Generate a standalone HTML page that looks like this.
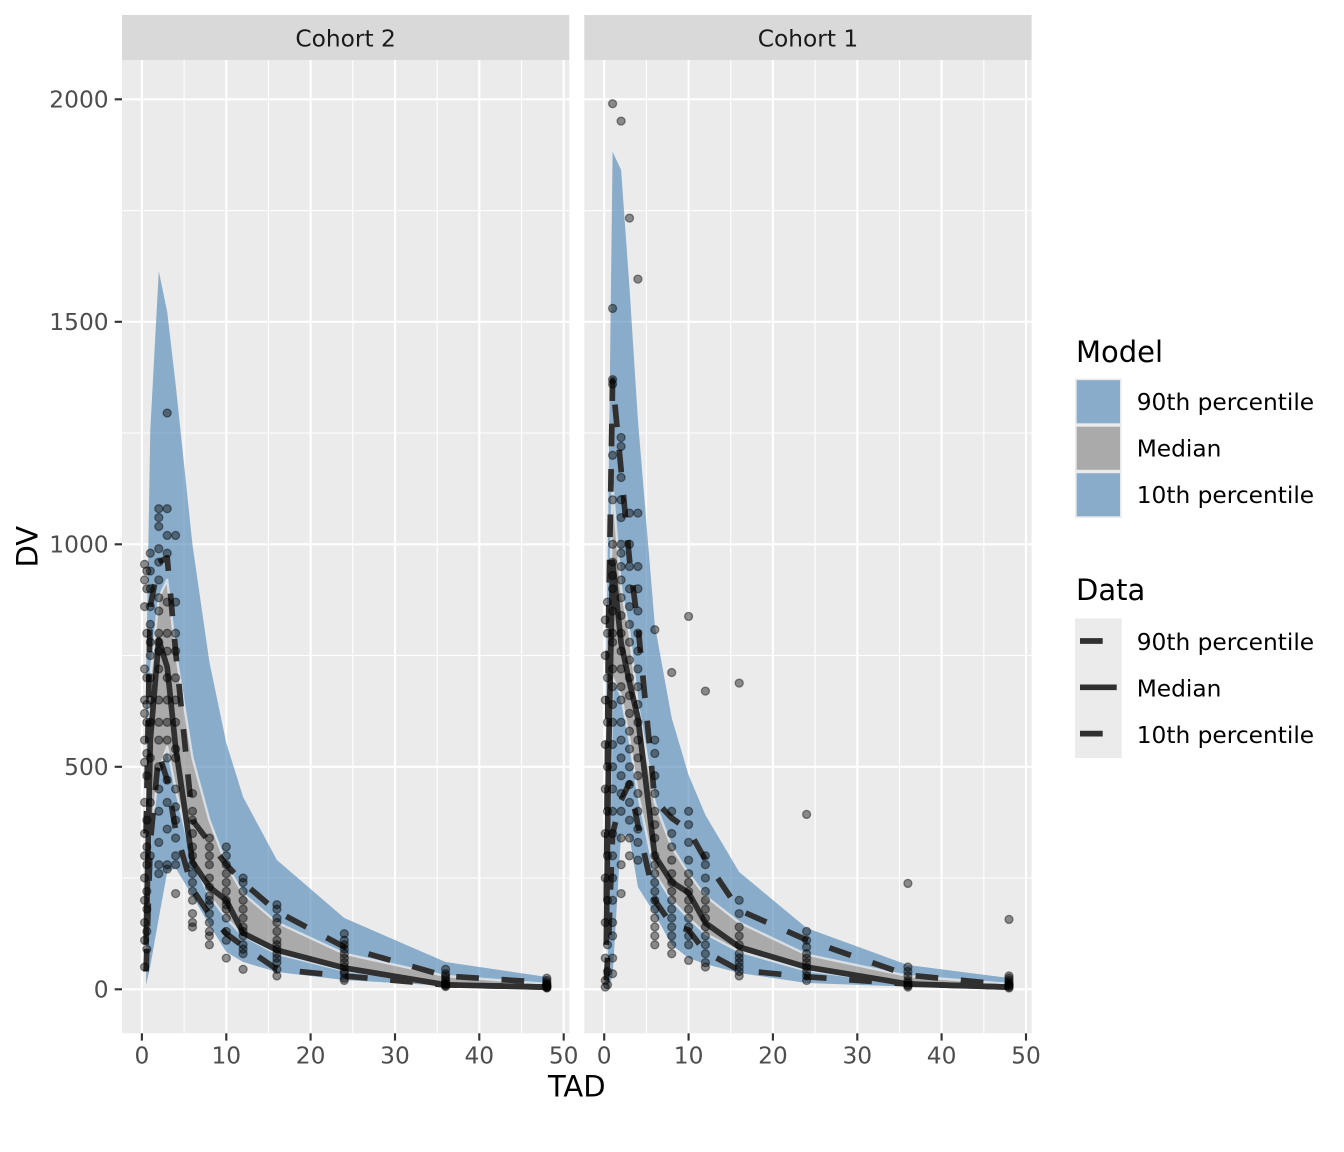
<!DOCTYPE html>
<html><head><meta charset="utf-8"><style>
html,body{margin:0;padding:0;background:#fff;}
svg{display:block;font-family:"DejaVu Sans","Liberation Sans",sans-serif;}
.pt circle{fill:#000;fill-opacity:.42;stroke:#000;stroke-opacity:.42;stroke-width:1.3;r:4px}
.gmaj{stroke:#fff;stroke-width:2.13}
.gmin{stroke:#fff;stroke-width:1.07}
.band{fill:#4682B4;fill-opacity:.6}
.gray{fill:#7F7F7F;fill-opacity:.6;stroke:#fff;stroke-opacity:.6;stroke-width:2.4;stroke-linejoin:round}
.ln{fill:none;stroke:#303030;stroke-width:5.7;stroke-linejoin:round}
.dash{stroke-dasharray:22.7 22.7}
.tk{stroke:#333;stroke-width:2.13}
.tl{fill:#4D4D4D;font-size:23.3px}
.lg{fill:#000;font-size:23.3px}
.tt{fill:#000;font-size:29px}
</style></head><body>
<svg width="1344" height="1152" viewBox="0 0 1344 1152" xmlns="http://www.w3.org/2000/svg">
<rect width="1344" height="1152" fill="#fff"/>

<!-- Strips -->
<rect x="122" y="15" width="447.3" height="45" fill="#D9D9D9"/>
<rect x="584.3" y="15" width="447.3" height="45" fill="#D9D9D9"/>
<text x="345.6" y="46.3" text-anchor="middle" font-size="23.3" fill="#1A1A1A">Cohort 2</text>
<text x="808" y="46.3" text-anchor="middle" font-size="23.3" fill="#1A1A1A">Cohort 1</text>

<!-- Panel 1 background + grid -->
<rect x="122" y="60" width="447.3" height="973.3" fill="#EBEBEB"/>
<g class="gmin">
<line x1="122" x2="569.3" y1="878.0" y2="878.0"/><line x1="122" x2="569.3" y1="655.5" y2="655.5"/>
<line x1="122" x2="569.3" y1="433.0" y2="433.0"/><line x1="122" x2="569.3" y1="210.6" y2="210.6"/>
<line y1="60" y2="1033.3" x1="184.1" x2="184.1"/><line y1="60" y2="1033.3" x1="268.4" x2="268.4"/>
<line y1="60" y2="1033.3" x1="352.8" x2="352.8"/><line y1="60" y2="1033.3" x1="437.2" x2="437.2"/>
<line y1="60" y2="1033.3" x1="521.5" x2="521.5"/>
</g>
<g class="gmaj">
<line x1="122" x2="569.3" y1="989.3" y2="989.3"/><line x1="122" x2="569.3" y1="766.8" y2="766.8"/>
<line x1="122" x2="569.3" y1="544.3" y2="544.3"/><line x1="122" x2="569.3" y1="321.8" y2="321.8"/>
<line x1="122" x2="569.3" y1="99.3" y2="99.3"/>
<line y1="60" y2="1033.3" x1="141.9" x2="141.9"/><line y1="60" y2="1033.3" x1="226.3" x2="226.3"/>
<line y1="60" y2="1033.3" x1="310.6" x2="310.6"/><line y1="60" y2="1033.3" x1="395.0" x2="395.0"/>
<line y1="60" y2="1033.3" x1="479.3" x2="479.3"/><line y1="60" y2="1033.3" x1="563.7" x2="563.7"/>
</g>

<!-- Panel 2 background + grid -->
<rect x="584.3" y="60" width="447.3" height="973.3" fill="#EBEBEB"/>
<g class="gmin">
<line x1="584.3" x2="1031.6" y1="878.0" y2="878.0"/><line x1="584.3" x2="1031.6" y1="655.5" y2="655.5"/>
<line x1="584.3" x2="1031.6" y1="433.0" y2="433.0"/><line x1="584.3" x2="1031.6" y1="210.6" y2="210.6"/>
<line y1="60" y2="1033.3" x1="646.4" x2="646.4"/><line y1="60" y2="1033.3" x1="730.7" x2="730.7"/>
<line y1="60" y2="1033.3" x1="815.1" x2="815.1"/><line y1="60" y2="1033.3" x1="899.5" x2="899.5"/>
<line y1="60" y2="1033.3" x1="983.8" x2="983.8"/>
</g>
<g class="gmaj">
<line x1="584.3" x2="1031.6" y1="989.3" y2="989.3"/><line x1="584.3" x2="1031.6" y1="766.8" y2="766.8"/>
<line x1="584.3" x2="1031.6" y1="544.3" y2="544.3"/><line x1="584.3" x2="1031.6" y1="321.8" y2="321.8"/>
<line x1="584.3" x2="1031.6" y1="99.3" y2="99.3"/>
<line y1="60" y2="1033.3" x1="604.2" x2="604.2"/><line y1="60" y2="1033.3" x1="688.6" x2="688.6"/>
<line y1="60" y2="1033.3" x1="772.9" x2="772.9"/><line y1="60" y2="1033.3" x1="857.3" x2="857.3"/>
<line y1="60" y2="1033.3" x1="941.6" x2="941.6"/><line y1="60" y2="1033.3" x1="1026.0" x2="1026.0"/>
</g>

<!-- Panel 1 ribbons -->
<polygon class="band" points="146.1,678 150.3,430 158.8,271 167.2,312 175.6,384 192.5,545 209.4,662 226.3,743 243.1,797 276.9,860 344.3,918 445.6,962 546.8,977 546.8,984.0 445.6,976.0 344.3,953.7 276.9,922.5 243.1,893.6 226.3,864.7 209.4,820.2 192.5,757.9 175.6,651.1 167.2,579.9 158.8,597.7 150.3,677.8 146.1,784.6"/>
<polygon class="band" points="146.1,927.0 150.3,838.0 158.8,771.2 167.2,746.8 175.6,789.1 192.5,860.2 209.4,895.9 226.3,918.1 243.1,935.9 276.9,953.7 344.3,970.6 445.6,984.0 546.8,987.5 546.8,988.4 445.6,985.8 344.3,980 276.9,972 243.1,962 226.3,952 209.4,925 192.5,896 175.6,868 167.2,872 158.8,918 150.3,966 146.1,985"/>
<polygon class="gray" points="146.1,784.6 150.3,677.8 158.8,597.7 167.2,579.9 175.6,651.1 192.5,757.9 209.4,820.2 226.3,864.7 243.1,893.6 276.9,922.5 344.3,953.7 445.6,976.0 546.8,984.0 546.8,987.5 445.6,984.0 344.3,970.6 276.9,953.7 243.1,935.9 226.3,918.1 209.4,895.9 192.5,860.2 175.6,789.1 167.2,746.8 158.8,771.2 150.3,838.0 146.1,927.0"/>

<!-- Panel 2 ribbons -->
<polygon class="band" points="606.3,656 608.4,500 612.6,151.7 621.1,170 629.5,288 637.9,420 654.8,625 671.7,718 688.6,775 705.4,815 739.2,872 806.6,928 907.9,965 1009.0,978 1009.0,984.0 907.9,976.0 806.6,954.6 739.2,922.5 705.4,895.9 688.6,873.6 671.7,846.9 654.8,802.4 637.9,704.5 629.5,633.3 621.1,588.8 612.6,486.4 608.4,677.8 606.3,878.1"/>
<polygon class="band" points="606.3,976.0 608.4,878.1 612.6,677.8 621.1,695.6 629.5,740.1 637.9,793.5 654.8,873.6 671.7,900.3 688.6,918.1 705.4,933.7 739.2,951.5 806.6,970.6 907.9,984.0 1009.0,987.5 1009.0,988.4 907.9,986.6 806.6,983 739.2,973 705.4,964 688.6,958 671.7,945 654.8,914 637.9,887 629.5,837 621.1,833 612.6,976 608.4,987 606.3,989"/>
<polygon class="gray" points="606.3,878.1 608.4,677.8 612.6,486.4 621.1,588.8 629.5,633.3 637.9,704.5 654.8,802.4 671.7,846.9 688.6,873.6 705.4,895.9 739.2,922.5 806.6,954.6 907.9,976.0 1009.0,984.0 1009.0,987.5 907.9,984.0 806.6,970.6 739.2,951.5 705.4,933.7 688.6,918.1 671.7,900.3 654.8,873.6 637.9,793.5 629.5,740.1 621.1,695.6 612.6,677.8 608.4,878.1 606.3,976.0"/>

<!-- Panel 1 data lines -->
<polyline class="ln" points="146.1,944.8 150.3,740.1 158.8,640.0 167.2,667.1 175.6,746.8 192.5,862.0 209.4,887.0 226.3,900.3 243.1,933.2 276.9,950.1 344.3,967.9 445.6,984.8 546.8,987.1"/>
<polyline class="ln dash" points="146.1,833.6 150.3,606.6 158.8,562.1 167.2,557.7 175.6,651.1 192.5,820.2 209.4,842.4 226.3,864.7 243.1,882.5 276.9,911.4 344.3,947.0 445.6,976.0 546.8,982.6"/>
<polyline class="ln dash" points="146.1,971.5 150.3,842.4 158.8,753.5 167.2,780.2 175.6,830.0 192.5,889.2 209.4,914.5 226.3,933.7 243.1,946.1 276.9,969.3 344.3,976.0 445.6,984.9 546.8,987.1"/>

<!-- Panel 2 data lines -->
<polyline class="ln" points="606.3,944.8 608.4,766.8 612.6,562.1 621.1,643.1 629.5,682.7 637.9,717.9 654.8,855.8 671.7,882.1 688.6,892.7 705.4,923.0 739.2,947.0 806.6,967.1 907.9,984.0 1009.0,987.1"/>
<polyline class="ln dash" points="606.3,900.3 608.4,633.3 612.6,380.1 621.1,470.0 629.5,559.9 637.9,624.8 654.8,800.2 671.7,818.0 688.6,830.0 705.4,859.8 739.2,910.1 806.6,939.9 907.9,975.1 1009.0,984.9"/>
<polyline class="ln dash" points="606.3,980.4 608.4,944.8 612.6,833.6 621.1,800.2 629.5,782.8 637.9,825.1 654.8,900.3 671.7,924.8 688.6,930.1 705.4,951.9 739.2,970.2 806.6,976.8 907.9,984.0 1009.0,987.1"/>

<!-- Panel 1 points -->
<g class="pt">
<circle cx="144.6" cy="967.0" r="4"/><circle cx="146.8" cy="949.2" r="4"/><circle cx="144.6" cy="940.3" r="4"/><circle cx="146.8" cy="931.4" r="4"/><circle cx="144.6" cy="922.5" r="4"/><circle cx="146.8" cy="909.2" r="4"/><circle cx="144.6" cy="900.3" r="4"/><circle cx="146.8" cy="891.4" r="4"/><circle cx="144.6" cy="878.0" r="4"/><circle cx="146.8" cy="864.7" r="4"/><circle cx="144.6" cy="855.8" r="4"/><circle cx="146.8" cy="846.9" r="4"/><circle cx="144.6" cy="833.5" r="4"/><circle cx="146.8" cy="820.2" r="4"/><circle cx="144.6" cy="802.4" r="4"/><circle cx="146.8" cy="775.7" r="4"/><circle cx="144.6" cy="762.3" r="4"/><circle cx="146.8" cy="753.4" r="4"/><circle cx="144.6" cy="740.1" r="4"/><circle cx="146.8" cy="722.3" r="4"/><circle cx="144.6" cy="713.4" r="4"/><circle cx="146.8" cy="704.5" r="4"/><circle cx="144.6" cy="700.0" r="4"/><circle cx="146.8" cy="677.8" r="4"/><circle cx="144.6" cy="668.9" r="4"/><circle cx="146.8" cy="633.3" r="4"/><circle cx="144.6" cy="606.6" r="4"/><circle cx="146.8" cy="588.8" r="4"/><circle cx="144.6" cy="579.9" r="4"/><circle cx="146.8" cy="571.0" r="4"/><circle cx="144.6" cy="564.3" r="4"/>
<circle cx="150.3" cy="855.8" r="4"/><circle cx="150.3" cy="802.4" r="4"/><circle cx="150.3" cy="757.9" r="4"/><circle cx="150.3" cy="722.3" r="4"/><circle cx="150.3" cy="700.0" r="4"/><circle cx="150.3" cy="677.8" r="4"/><circle cx="150.3" cy="655.5" r="4"/><circle cx="150.3" cy="642.2" r="4"/><circle cx="150.3" cy="624.4" r="4"/><circle cx="150.3" cy="606.6" r="4"/><circle cx="150.3" cy="588.8" r="4"/><circle cx="150.3" cy="571.0" r="4"/><circle cx="150.3" cy="553.2" r="4"/>
<circle cx="158.8" cy="873.6" r="4"/><circle cx="158.8" cy="864.7" r="4"/><circle cx="158.8" cy="842.4" r="4"/><circle cx="158.8" cy="811.3" r="4"/><circle cx="158.8" cy="789.0" r="4"/><circle cx="158.8" cy="766.8" r="4"/><circle cx="158.8" cy="740.1" r="4"/><circle cx="158.8" cy="722.3" r="4"/><circle cx="158.8" cy="700.0" r="4"/><circle cx="158.8" cy="668.9" r="4"/><circle cx="158.8" cy="651.1" r="4"/><circle cx="158.8" cy="642.2" r="4"/><circle cx="158.8" cy="633.3" r="4"/><circle cx="158.8" cy="611.0" r="4"/><circle cx="158.8" cy="597.7" r="4"/><circle cx="158.8" cy="579.9" r="4"/><circle cx="158.8" cy="562.1" r="4"/><circle cx="158.8" cy="548.7" r="4"/><circle cx="158.8" cy="526.5" r="4"/><circle cx="158.8" cy="517.6" r="4"/><circle cx="158.8" cy="508.7" r="4"/>
<circle cx="167.2" cy="869.1" r="4"/><circle cx="167.2" cy="864.7" r="4"/><circle cx="167.2" cy="829.1" r="4"/><circle cx="167.2" cy="802.4" r="4"/><circle cx="167.2" cy="780.1" r="4"/><circle cx="167.2" cy="757.9" r="4"/><circle cx="167.2" cy="740.1" r="4"/><circle cx="167.2" cy="722.3" r="4"/><circle cx="167.2" cy="700.0" r="4"/><circle cx="167.2" cy="677.8" r="4"/><circle cx="167.2" cy="651.1" r="4"/><circle cx="167.2" cy="633.3" r="4"/><circle cx="167.2" cy="602.1" r="4"/><circle cx="167.2" cy="553.2" r="4"/><circle cx="167.2" cy="535.4" r="4"/><circle cx="167.2" cy="508.7" r="4"/><circle cx="167.2" cy="413.0" r="4"/>
<circle cx="175.6" cy="893.6" r="4"/><circle cx="175.6" cy="864.7" r="4"/><circle cx="175.6" cy="855.8" r="4"/><circle cx="175.6" cy="838.0" r="4"/><circle cx="175.6" cy="820.2" r="4"/><circle cx="175.6" cy="806.8" r="4"/><circle cx="175.6" cy="789.0" r="4"/><circle cx="175.6" cy="757.9" r="4"/><circle cx="175.6" cy="749.0" r="4"/><circle cx="175.6" cy="722.3" r="4"/><circle cx="175.6" cy="700.0" r="4"/><circle cx="175.6" cy="677.8" r="4"/><circle cx="175.6" cy="651.1" r="4"/><circle cx="175.6" cy="633.3" r="4"/><circle cx="175.6" cy="602.1" r="4"/><circle cx="175.6" cy="535.4" r="4"/>
<circle cx="192.5" cy="927.0" r="4"/><circle cx="192.5" cy="922.5" r="4"/><circle cx="192.5" cy="913.6" r="4"/><circle cx="192.5" cy="900.3" r="4"/><circle cx="192.5" cy="891.4" r="4"/><circle cx="192.5" cy="882.5" r="4"/><circle cx="192.5" cy="873.6" r="4"/><circle cx="192.5" cy="864.7" r="4"/><circle cx="192.5" cy="855.8" r="4"/><circle cx="192.5" cy="846.9" r="4"/><circle cx="192.5" cy="833.5" r="4"/><circle cx="192.5" cy="820.2" r="4"/><circle cx="192.5" cy="811.3" r="4"/><circle cx="192.5" cy="793.5" r="4"/>
<circle cx="209.4" cy="944.8" r="4"/><circle cx="209.4" cy="935.9" r="4"/><circle cx="209.4" cy="931.4" r="4"/><circle cx="209.4" cy="922.5" r="4"/><circle cx="209.4" cy="913.6" r="4"/><circle cx="209.4" cy="904.7" r="4"/><circle cx="209.4" cy="900.3" r="4"/><circle cx="209.4" cy="895.9" r="4"/><circle cx="209.4" cy="886.9" r="4"/><circle cx="209.4" cy="878.0" r="4"/><circle cx="209.4" cy="864.7" r="4"/><circle cx="209.4" cy="855.8" r="4"/><circle cx="209.4" cy="846.9" r="4"/><circle cx="209.4" cy="838.0" r="4"/>
<circle cx="226.3" cy="958.1" r="4"/><circle cx="226.3" cy="940.3" r="4"/><circle cx="226.3" cy="931.4" r="4"/><circle cx="226.3" cy="918.1" r="4"/><circle cx="226.3" cy="909.2" r="4"/><circle cx="226.3" cy="904.7" r="4"/><circle cx="226.3" cy="900.3" r="4"/><circle cx="226.3" cy="891.4" r="4"/><circle cx="226.3" cy="882.5" r="4"/><circle cx="226.3" cy="873.6" r="4"/><circle cx="226.3" cy="864.7" r="4"/><circle cx="226.3" cy="855.8" r="4"/><circle cx="226.3" cy="846.9" r="4"/>
<circle cx="243.1" cy="969.3" r="4"/><circle cx="243.1" cy="953.7" r="4"/><circle cx="243.1" cy="949.2" r="4"/><circle cx="243.1" cy="944.8" r="4"/><circle cx="243.1" cy="935.9" r="4"/><circle cx="243.1" cy="931.4" r="4"/><circle cx="243.1" cy="927.0" r="4"/><circle cx="243.1" cy="918.1" r="4"/><circle cx="243.1" cy="909.2" r="4"/><circle cx="243.1" cy="900.3" r="4"/><circle cx="243.1" cy="891.4" r="4"/><circle cx="243.1" cy="882.5" r="4"/><circle cx="243.1" cy="878.0" r="4"/>
<circle cx="276.9" cy="975.9" r="4"/><circle cx="276.9" cy="969.3" r="4"/><circle cx="276.9" cy="962.6" r="4"/><circle cx="276.9" cy="958.1" r="4"/><circle cx="276.9" cy="953.7" r="4"/><circle cx="276.9" cy="949.2" r="4"/><circle cx="276.9" cy="944.8" r="4"/><circle cx="276.9" cy="940.3" r="4"/><circle cx="276.9" cy="931.4" r="4"/><circle cx="276.9" cy="922.5" r="4"/><circle cx="276.9" cy="918.1" r="4"/><circle cx="276.9" cy="909.2" r="4"/><circle cx="276.9" cy="904.7" r="4"/>
<circle cx="344.3" cy="980.4" r="4"/><circle cx="344.3" cy="978.2" r="4"/><circle cx="344.3" cy="973.7" r="4"/><circle cx="344.3" cy="971.5" r="4"/><circle cx="344.3" cy="967.0" r="4"/><circle cx="344.3" cy="962.6" r="4"/><circle cx="344.3" cy="958.1" r="4"/><circle cx="344.3" cy="953.7" r="4"/><circle cx="344.3" cy="949.2" r="4"/><circle cx="344.3" cy="944.8" r="4"/><circle cx="344.3" cy="940.3" r="4"/><circle cx="344.3" cy="933.7" r="4"/>
<circle cx="445.6" cy="986.6" r="4"/><circle cx="445.6" cy="985.7" r="4"/><circle cx="445.6" cy="984.8" r="4"/><circle cx="445.6" cy="984.0" r="4"/><circle cx="445.6" cy="982.6" r="4"/><circle cx="445.6" cy="980.4" r="4"/><circle cx="445.6" cy="978.2" r="4"/><circle cx="445.6" cy="975.9" r="4"/><circle cx="445.6" cy="973.7" r="4"/><circle cx="445.6" cy="969.3" r="4"/>
<circle cx="546.8" cy="988.0" r="4"/><circle cx="546.8" cy="987.5" r="4"/><circle cx="546.8" cy="987.1" r="4"/><circle cx="546.8" cy="986.6" r="4"/><circle cx="546.8" cy="985.7" r="4"/><circle cx="546.8" cy="984.8" r="4"/><circle cx="546.8" cy="984.0" r="4"/><circle cx="546.8" cy="982.6" r="4"/><circle cx="546.8" cy="980.4" r="4"/><circle cx="546.8" cy="978.2" r="4"/>
</g>

<!-- Panel 2 points -->
<g class="pt">
<circle cx="605.3" cy="987.1" r="4"/><circle cx="607.5" cy="984.8" r="4"/><circle cx="605.3" cy="980.4" r="4"/><circle cx="607.5" cy="971.5" r="4"/><circle cx="605.3" cy="958.1" r="4"/><circle cx="607.5" cy="944.8" r="4"/><circle cx="605.3" cy="922.5" r="4"/><circle cx="607.5" cy="900.3" r="4"/><circle cx="605.3" cy="878.0" r="4"/><circle cx="607.5" cy="855.8" r="4"/><circle cx="605.3" cy="833.5" r="4"/><circle cx="607.5" cy="811.3" r="4"/><circle cx="605.3" cy="789.0" r="4"/><circle cx="607.5" cy="766.8" r="4"/><circle cx="605.3" cy="744.5" r="4"/><circle cx="607.5" cy="722.3" r="4"/><circle cx="605.3" cy="700.0" r="4"/><circle cx="607.5" cy="677.8" r="4"/><circle cx="605.3" cy="655.5" r="4"/><circle cx="607.5" cy="633.3" r="4"/><circle cx="605.3" cy="619.9" r="4"/><circle cx="607.5" cy="602.1" r="4"/>
<circle cx="612.6" cy="973.7" r="4"/><circle cx="612.6" cy="958.1" r="4"/><circle cx="612.6" cy="935.9" r="4"/><circle cx="612.6" cy="922.5" r="4"/><circle cx="612.6" cy="900.3" r="4"/><circle cx="612.6" cy="878.0" r="4"/><circle cx="612.6" cy="855.8" r="4"/><circle cx="612.6" cy="833.5" r="4"/><circle cx="612.6" cy="811.3" r="4"/><circle cx="612.6" cy="789.0" r="4"/><circle cx="612.6" cy="766.8" r="4"/><circle cx="612.6" cy="744.5" r="4"/><circle cx="612.6" cy="722.3" r="4"/><circle cx="612.6" cy="704.5" r="4"/><circle cx="612.6" cy="686.7" r="4"/><circle cx="612.6" cy="668.9" r="4"/><circle cx="612.6" cy="642.2" r="4"/><circle cx="612.6" cy="633.3" r="4"/><circle cx="612.6" cy="611.0" r="4"/><circle cx="612.6" cy="588.8" r="4"/><circle cx="612.6" cy="575.4" r="4"/><circle cx="612.6" cy="562.1" r="4"/><circle cx="612.6" cy="544.3" r="4"/><circle cx="612.6" cy="499.8" r="4"/><circle cx="612.6" cy="455.3" r="4"/><circle cx="612.6" cy="384.1" r="4"/><circle cx="612.6" cy="379.6" r="4"/><circle cx="612.6" cy="308.4" r="4"/><circle cx="612.6" cy="103.7" r="4"/>
<circle cx="621.1" cy="893.6" r="4"/><circle cx="621.1" cy="864.7" r="4"/><circle cx="621.1" cy="838.0" r="4"/><circle cx="621.1" cy="811.3" r="4"/><circle cx="621.1" cy="793.5" r="4"/><circle cx="621.1" cy="775.7" r="4"/><circle cx="621.1" cy="757.9" r="4"/><circle cx="621.1" cy="740.1" r="4"/><circle cx="621.1" cy="722.3" r="4"/><circle cx="621.1" cy="700.0" r="4"/><circle cx="621.1" cy="686.7" r="4"/><circle cx="621.1" cy="668.9" r="4"/><circle cx="621.1" cy="651.1" r="4"/><circle cx="621.1" cy="633.3" r="4"/><circle cx="621.1" cy="615.5" r="4"/><circle cx="621.1" cy="597.7" r="4"/><circle cx="621.1" cy="579.9" r="4"/><circle cx="621.1" cy="566.5" r="4"/><circle cx="621.1" cy="553.2" r="4"/><circle cx="621.1" cy="544.3" r="4"/><circle cx="621.1" cy="517.6" r="4"/><circle cx="621.1" cy="499.8" r="4"/><circle cx="621.1" cy="477.5" r="4"/><circle cx="621.1" cy="446.4" r="4"/><circle cx="621.1" cy="437.5" r="4"/><circle cx="621.1" cy="121.1" r="4"/>
<circle cx="629.5" cy="855.8" r="4"/><circle cx="629.5" cy="838.0" r="4"/><circle cx="629.5" cy="820.2" r="4"/><circle cx="629.5" cy="802.4" r="4"/><circle cx="629.5" cy="784.6" r="4"/><circle cx="629.5" cy="766.8" r="4"/><circle cx="629.5" cy="749.0" r="4"/><circle cx="629.5" cy="731.2" r="4"/><circle cx="629.5" cy="713.4" r="4"/><circle cx="629.5" cy="695.6" r="4"/><circle cx="629.5" cy="677.8" r="4"/><circle cx="629.5" cy="660.0" r="4"/><circle cx="629.5" cy="642.2" r="4"/><circle cx="629.5" cy="624.4" r="4"/><circle cx="629.5" cy="606.6" r="4"/><circle cx="629.5" cy="588.8" r="4"/><circle cx="629.5" cy="566.5" r="4"/><circle cx="629.5" cy="544.3" r="4"/><circle cx="629.5" cy="513.1" r="4"/><circle cx="629.5" cy="218.1" r="4"/>
<circle cx="637.9" cy="860.2" r="4"/><circle cx="637.9" cy="842.4" r="4"/><circle cx="637.9" cy="829.1" r="4"/><circle cx="637.9" cy="811.3" r="4"/><circle cx="637.9" cy="793.5" r="4"/><circle cx="637.9" cy="775.7" r="4"/><circle cx="637.9" cy="757.9" r="4"/><circle cx="637.9" cy="740.1" r="4"/><circle cx="637.9" cy="722.3" r="4"/><circle cx="637.9" cy="704.5" r="4"/><circle cx="637.9" cy="686.7" r="4"/><circle cx="637.9" cy="668.9" r="4"/><circle cx="637.9" cy="651.1" r="4"/><circle cx="637.9" cy="633.3" r="4"/><circle cx="637.9" cy="611.0" r="4"/><circle cx="637.9" cy="588.8" r="4"/><circle cx="637.9" cy="566.5" r="4"/><circle cx="637.9" cy="513.1" r="4"/><circle cx="637.9" cy="279.1" r="4"/>
<circle cx="654.8" cy="944.8" r="4"/><circle cx="654.8" cy="935.9" r="4"/><circle cx="654.8" cy="927.0" r="4"/><circle cx="654.8" cy="918.1" r="4"/><circle cx="654.8" cy="909.2" r="4"/><circle cx="654.8" cy="900.3" r="4"/><circle cx="654.8" cy="891.4" r="4"/><circle cx="654.8" cy="882.5" r="4"/><circle cx="654.8" cy="873.6" r="4"/><circle cx="654.8" cy="864.7" r="4"/><circle cx="654.8" cy="855.8" r="4"/><circle cx="654.8" cy="838.0" r="4"/><circle cx="654.8" cy="824.6" r="4"/><circle cx="654.8" cy="811.3" r="4"/><circle cx="654.8" cy="793.5" r="4"/><circle cx="654.8" cy="775.7" r="4"/><circle cx="654.8" cy="753.4" r="4"/><circle cx="654.8" cy="740.1" r="4"/><circle cx="654.8" cy="629.7" r="4"/>
<circle cx="671.7" cy="953.7" r="4"/><circle cx="671.7" cy="944.8" r="4"/><circle cx="671.7" cy="935.9" r="4"/><circle cx="671.7" cy="927.0" r="4"/><circle cx="671.7" cy="918.1" r="4"/><circle cx="671.7" cy="909.2" r="4"/><circle cx="671.7" cy="900.3" r="4"/><circle cx="671.7" cy="891.4" r="4"/><circle cx="671.7" cy="882.5" r="4"/><circle cx="671.7" cy="873.6" r="4"/><circle cx="671.7" cy="860.2" r="4"/><circle cx="671.7" cy="846.9" r="4"/><circle cx="671.7" cy="833.5" r="4"/><circle cx="671.7" cy="811.3" r="4"/><circle cx="671.7" cy="672.5" r="4"/>
<circle cx="688.6" cy="960.4" r="4"/><circle cx="688.6" cy="944.8" r="4"/><circle cx="688.6" cy="935.9" r="4"/><circle cx="688.6" cy="927.0" r="4"/><circle cx="688.6" cy="918.1" r="4"/><circle cx="688.6" cy="909.2" r="4"/><circle cx="688.6" cy="900.3" r="4"/><circle cx="688.6" cy="891.4" r="4"/><circle cx="688.6" cy="882.5" r="4"/><circle cx="688.6" cy="873.6" r="4"/><circle cx="688.6" cy="860.2" r="4"/><circle cx="688.6" cy="842.4" r="4"/><circle cx="688.6" cy="824.6" r="4"/><circle cx="688.6" cy="811.3" r="4"/><circle cx="688.6" cy="616.4" r="4"/>
<circle cx="705.4" cy="967.0" r="4"/><circle cx="705.4" cy="962.6" r="4"/><circle cx="705.4" cy="953.7" r="4"/><circle cx="705.4" cy="944.8" r="4"/><circle cx="705.4" cy="935.9" r="4"/><circle cx="705.4" cy="927.0" r="4"/><circle cx="705.4" cy="918.1" r="4"/><circle cx="705.4" cy="909.2" r="4"/><circle cx="705.4" cy="900.3" r="4"/><circle cx="705.4" cy="891.4" r="4"/><circle cx="705.4" cy="878.0" r="4"/><circle cx="705.4" cy="864.7" r="4"/><circle cx="705.4" cy="855.8" r="4"/><circle cx="705.4" cy="691.1" r="4"/>
<circle cx="739.2" cy="975.9" r="4"/><circle cx="739.2" cy="971.5" r="4"/><circle cx="739.2" cy="967.0" r="4"/><circle cx="739.2" cy="962.6" r="4"/><circle cx="739.2" cy="958.1" r="4"/><circle cx="739.2" cy="953.7" r="4"/><circle cx="739.2" cy="944.8" r="4"/><circle cx="739.2" cy="935.9" r="4"/><circle cx="739.2" cy="927.0" r="4"/><circle cx="739.2" cy="913.6" r="4"/><circle cx="739.2" cy="900.3" r="4"/><circle cx="739.2" cy="683.1" r="4"/>
<circle cx="806.6" cy="980.4" r="4"/><circle cx="806.6" cy="975.9" r="4"/><circle cx="806.6" cy="971.5" r="4"/><circle cx="806.6" cy="967.0" r="4"/><circle cx="806.6" cy="962.6" r="4"/><circle cx="806.6" cy="958.1" r="4"/><circle cx="806.6" cy="953.7" r="4"/><circle cx="806.6" cy="947.0" r="4"/><circle cx="806.6" cy="940.3" r="4"/><circle cx="806.6" cy="931.4" r="4"/><circle cx="806.6" cy="814.4" r="4"/>
<circle cx="907.9" cy="987.1" r="4"/><circle cx="907.9" cy="985.7" r="4"/><circle cx="907.9" cy="984.8" r="4"/><circle cx="907.9" cy="982.6" r="4"/><circle cx="907.9" cy="980.4" r="4"/><circle cx="907.9" cy="975.9" r="4"/><circle cx="907.9" cy="971.5" r="4"/><circle cx="907.9" cy="967.0" r="4"/><circle cx="907.9" cy="883.4" r="4"/>
<circle cx="1009.0" cy="988.0" r="4"/><circle cx="1009.0" cy="987.1" r="4"/><circle cx="1009.0" cy="985.7" r="4"/><circle cx="1009.0" cy="984.8" r="4"/><circle cx="1009.0" cy="984.0" r="4"/><circle cx="1009.0" cy="982.6" r="4"/><circle cx="1009.0" cy="980.4" r="4"/><circle cx="1009.0" cy="978.2" r="4"/><circle cx="1009.0" cy="975.9" r="4"/><circle cx="1009.0" cy="919.4" r="4"/>
</g>

<!-- Y axis ticks/labels -->
<g class="tk">
<line x1="114.7" x2="122" y1="989.3" y2="989.3"/><line x1="114.7" x2="122" y1="766.8" y2="766.8"/>
<line x1="114.7" x2="122" y1="544.3" y2="544.3"/><line x1="114.7" x2="122" y1="321.8" y2="321.8"/>
<line x1="114.7" x2="122" y1="99.3" y2="99.3"/>
</g>
<g class="tl" text-anchor="end">
<text x="108.6" y="997.7">0</text><text x="108.6" y="775.2">500</text><text x="108.6" y="552.7">1000</text>
<text x="108.6" y="330.2">1500</text><text x="108.6" y="107.7">2000</text>
</g>

<!-- X axis ticks/labels -->
<g class="tk">
<line y1="1033.3" y2="1040.6" x1="141.9" x2="141.9"/><line y1="1033.3" y2="1040.6" x1="226.3" x2="226.3"/>
<line y1="1033.3" y2="1040.6" x1="310.6" x2="310.6"/><line y1="1033.3" y2="1040.6" x1="395.0" x2="395.0"/>
<line y1="1033.3" y2="1040.6" x1="479.3" x2="479.3"/><line y1="1033.3" y2="1040.6" x1="563.7" x2="563.7"/>
<line y1="1033.3" y2="1040.6" x1="604.2" x2="604.2"/><line y1="1033.3" y2="1040.6" x1="688.6" x2="688.6"/>
<line y1="1033.3" y2="1040.6" x1="772.9" x2="772.9"/><line y1="1033.3" y2="1040.6" x1="857.3" x2="857.3"/>
<line y1="1033.3" y2="1040.6" x1="941.6" x2="941.6"/><line y1="1033.3" y2="1040.6" x1="1026.0" x2="1026.0"/>
</g>
<g class="tl" text-anchor="middle">
<text x="141.9" y="1063.3">0</text><text x="226.3" y="1063.3">10</text><text x="310.6" y="1063.3">20</text>
<text x="395.0" y="1063.3">30</text><text x="479.3" y="1063.3">40</text><text x="563.7" y="1063.3">50</text>
<text x="604.2" y="1063.3">0</text><text x="688.6" y="1063.3">10</text><text x="772.9" y="1063.3">20</text>
<text x="857.3" y="1063.3">30</text><text x="941.6" y="1063.3">40</text><text x="1026.0" y="1063.3">50</text>
</g>

<!-- Axis titles -->
<text class="tt" x="576.8" y="1096.7" text-anchor="middle">TAD</text>
<text class="tt" x="0" y="0" text-anchor="middle" transform="translate(37.5,546.7) rotate(-90)">DV</text>

<!-- Legend: Model -->
<text class="tt" x="1076" y="362">Model</text>
<rect x="1075" y="378.5" width="46.7" height="139.5" fill="#EBEBEB"/>
<rect x="1076.7" y="380.2" width="43.3" height="43.1" class="band"/>
<rect x="1076.7" y="426.7" width="43.3" height="43.1" fill="#7F7F7F" fill-opacity="0.6"/>
<rect x="1076.7" y="473.2" width="43.3" height="43.1" class="band"/>
<text class="lg" x="1136.7" y="410.2">90th percentile</text>
<text class="lg" x="1136.7" y="456.7">Median</text>
<text class="lg" x="1136.7" y="503.2">10th percentile</text>

<!-- Legend: Data -->
<text class="tt" x="1076" y="600">Data</text>
<rect x="1075" y="618.5" width="46.7" height="139.5" fill="#EBEBEB"/>
<line x1="1080" x2="1116.7" y1="641" y2="641" class="ln dash"/>
<line x1="1080" x2="1116.7" y1="687.3" y2="687.3" class="ln"/>
<line x1="1080" x2="1116.7" y1="733.6" y2="733.6" class="ln dash"/>
<text class="lg" x="1136.7" y="650.2">90th percentile</text>
<text class="lg" x="1136.7" y="696.7">Median</text>
<text class="lg" x="1136.7" y="743.2">10th percentile</text>
</svg>
</body></html>
